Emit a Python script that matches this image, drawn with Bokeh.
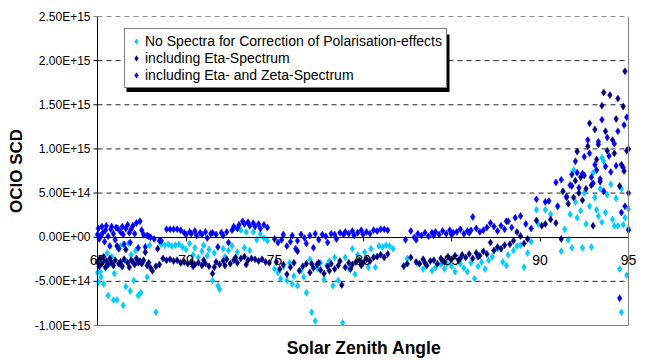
from bokeh.plotting import figure
from bokeh.models import (Range1d, FixedTicker, CustomJSTickFormatter, Legend,
                          LegendItem, ColumnDataSource, LinearAxis, Span)
from bokeh.embed import file_html
from bokeh.resources import INLINE

SCALE = 1e14  # y values below are in units of 1E+14

SERIES_NAMES = ["No Spectra for Correction of Polarisation-effects",
                "including Eta-Spectrum",
                "including Eta- and Zeta-Spectrum"]
COLORS = ["#00CCFF", "#000080", "#0000FF"]

X_TICKS = [65, 70, 75, 80, 85, 90, 95]
X_TICK_LABELS = ["65", "70", "75", "80", "85", "90", "95"]
Y_TICKS = [-1.0e15, -5.0e14, 0.0, 5.0e14, 1.0e15, 1.5e15, 2.0e15, 2.5e15]

# ---- No Spectra for Correction of Polarisation-effects (cyan)
nospec_x = [
    65.0, 65.05, 65.15, 65.2, 65.3, 65.35, 65.45, 65.55, 65.6, 65.7,
    65.8, 65.9, 65.95, 66.1, 66.2, 66.3, 66.35, 66.45, 66.55, 66.6,
    66.75, 66.85, 66.9, 67.05, 67.15, 67.3, 67.45, 67.55, 67.8, 67.95,
    68.3,
    68.6, 68.8, 69.0, 69.2, 69.4, 69.6, 69.8, 70.0, 70.2, 70.4,
    70.5, 70.7, 70.9, 71.0, 71.2, 71.3, 71.5, 71.6, 71.8, 71.9,
    72.1, 72.2, 72.4, 72.6, 72.7, 72.9, 73.1, 73.3, 73.4, 73.6,
    73.8, 74.0, 74.2, 74.4, 74.6,
    75.0, 75.2, 75.35, 75.5, 75.7, 75.85, 76.0, 76.1, 76.3, 76.5,
    76.65, 76.8, 77.0, 77.1, 77.3, 77.45, 77.6, 77.8, 77.95, 78.1,
    78.3, 78.4, 78.6, 78.85, 79.0, 79.2, 79.4, 79.55, 79.7, 79.9,
    80.1, 80.3, 80.45, 80.6, 80.7, 80.9, 81.1, 81.3, 81.5, 81.7,
    82.3, 82.5, 83.1, 83.4, 83.6, 83.9, 84.1, 84.4, 84.6, 84.75,
    85.0, 85.2, 85.5, 85.7, 85.9, 86.1, 86.3, 86.5, 86.7, 86.9,
    87.1, 87.3, 87.6, 87.9, 88.1, 88.2, 88.5, 88.7, 88.9, 89.1,
    89.3, 89.5,
    89.8, 89.9, 90.3, 90.6, 91.0, 91.2, 91.4, 91.6, 91.7, 91.8,
    91.9, 92.0, 92.1, 92.3, 92.4, 92.5, 92.6, 92.8, 92.9, 93.0,
    93.1, 93.2, 93.3, 93.4, 93.5, 93.5, 93.6, 93.7, 93.8, 94.0,
    94.1, 94.2, 94.3, 94.4, 94.5, 94.6, 94.6, 94.7, 94.8, 94.9,
    95.0, 95.0,
]
nospec_y = [
    -4.0, -5.1, -3.9, -4.5, -2.6, -5.3, -3.5, -1.8, -6.6, -3.0,
    -2.2, -7.1, -4.1, -7.1, -1.3, -1.0, -3.3, -7.7, -2.6, -5.6,
    -0.7, -6.1, -2.0, -4.9, -1.5, -6.6, -6.3, -2.8, -4.5, -0.9,
    -8.5,
    -0.8, -0.9, -0.8, -1.0, -0.9, -0.8, -1.1, -1.4, -0.7, -2.0,
    -1.2, -2.3, -1.6, -0.9, -2.1, -1.4, -4.9, -1.8, -5.5, -5.9,
    -1.3, -2.2, -1.5, -1.0, 1.0, -1.7, 0.8, -1.2, 0.6, -1.5,
    0.6, -0.3, 0.4, -0.1, -0.4,
    -3.6, -4.0, -4.7, -3.3, -4.9, -2.9, -5.3, -4.4, -5.5, -3.8,
    -4.5, -6.3, -2.5, -8.5, -9.5, -3.6, -2.9, -4.8, -3.2, -2.7,
    -5.5, -2.3, -4.9, -9.7, -2.3, -3.6, -1.3, -4.2, -2.0, -3.0,
    -1.7, -3.4, -1.3, -2.2, -3.4, -1.0, -1.1, -0.9, -1.0, -1.3,
    -3.2, -2.4, -3.0, -3.6, -3.2, -3.8, -3.4, -3.1, -3.6, -3.0,
    -3.3, -3.9, -3.0, -3.5, -3.9, -2.9, -4.7, -3.3, -2.8, -3.6,
    -2.6, -2.2, -1.3, -2.8, -3.2, -2.0, -1.5, -1.0, -0.9, -3.4,
    -1.8, -0.5,
    3.1, 1.5, 3.1, 2.6, 3.5, -1.6, 0.9, -0.3, 2.6, -1.2,
    7.6, 4.0, 2.2, 3.0, -1.2, 5.0, 1.5, 3.5, -1.1, 7.3,
    4.5, 3.1, 2.4, 5.5, 9.0, 1.7, 8.6, 2.8, 4.8, 6.0,
    2.0, 1.3, 4.4, 1.3, -3.6, -8.5, 5.5, 1.4, 2.2, -4.3,
    3.2, 1.0,
]

# ---- including Eta-Spectrum (navy)
eta_x = [
    65.0, 65.1, 65.15, 65.25, 65.35, 65.45, 65.5, 65.6, 65.7, 65.8,
    65.9, 66.0, 66.1, 66.2, 66.3, 66.4, 66.5, 66.6, 66.7, 66.8,
    66.9, 67.0, 67.1, 67.2, 67.3, 67.4, 67.5, 67.6, 67.7, 67.8,
    67.9, 68.0, 68.1, 68.3, 68.4, 68.5,
    68.7, 68.9, 69.1, 69.3, 69.5, 69.7, 69.9, 70.1, 70.3, 70.5,
    70.7, 70.9, 71.1, 71.3, 71.5, 71.7, 71.9, 72.1, 72.3, 72.5,
    72.7, 72.9, 73.1, 73.3, 73.5, 73.7, 73.9, 74.1, 74.3, 74.5,
    74.7, 70.4, 71.0, 71.6, 72.2, 72.8, 73.4,
    75.1, 75.3, 75.5, 75.7, 75.9, 76.1, 76.3, 76.4, 76.6, 76.8,
    77.0, 77.2, 77.4, 77.6, 77.8, 78.0, 78.2, 78.4, 78.6, 78.8,
    79.0, 79.2, 79.4, 79.6, 79.8, 80.0, 80.2, 80.4, 80.6, 80.8,
    81.0, 81.2, 81.4, 77.1, 77.5, 78.1, 78.7, 79.3, 79.9,
    82.3, 82.5, 82.7, 83.0, 83.2, 83.4, 83.6, 83.8, 84.0, 84.2,
    84.4, 84.6, 84.8, 85.0, 85.2, 85.4, 85.6, 85.8, 86.0, 86.2,
    86.4, 86.6, 86.8, 87.0, 87.2, 87.4, 87.6, 87.8, 88.0, 88.1,
    88.3, 88.5, 88.7, 88.9, 89.1, 89.3, 83.5, 84.5, 85.5, 86.5,
    89.8, 90.1, 90.3, 90.6, 90.9, 91.2, 91.3, 91.5, 91.6, 91.8,
    91.9, 92.0, 92.1, 92.2, 92.3, 92.4, 92.5, 92.6, 92.7, 92.8,
    92.9, 93.0, 93.1, 93.2, 93.3, 93.4, 93.5, 93.6, 93.7, 93.8,
    93.95, 94.1, 94.2, 94.3, 94.4, 94.5, 94.6, 94.7, 94.75, 94.8,
    94.9, 95.0,
]
eta_y = [
    -2.8, -3.3, -2.4, -3.0, -2.2, -3.4, -2.7, -3.1, -2.4, -2.9,
    -3.2, -2.6, -1.0, -3.0, -2.8, -3.3, -2.5, -1.4, -2.9, -3.4,
    -2.6, -2.8, -3.1, -2.4, -2.9, -2.7, -3.0, -2.6, -1.7, -3.2,
    -2.9, -3.5, -3.8, -3.3, -1.3, -3.1,
    -2.4, -2.6, -2.5, -2.7, -2.6, -2.9, -2.8, -3.0, -2.8, -3.1,
    -2.9, -3.2, -3.0, -3.3, -4.1, -2.8, -3.1, -2.7, -2.5, -3.0,
    -2.6, -2.9, -2.4, -2.2, -2.6, -2.4, -2.5, -2.7, -2.5, -2.8,
    -2.9, -3.3, -2.6, -3.4, -3.2, -2.3, -3.1,
    -2.8, -3.6, -3.1, -4.2, -3.4, -2.9, -1.6, -3.8, -3.3, -3.0,
    -4.0, -3.5, -3.1, -3.7, -4.1, -3.3, -3.0, -3.6, -3.2, -5.4,
    -3.4, -2.9, -3.1, -2.8, -2.6, -2.9, -2.5, -2.7, -2.3, -2.2,
    -2.0, -2.3, -1.9, -3.0, -2.9, -3.8, -2.7, -3.6, -3.2,
    -3.3, -3.0, -2.3, -2.8, -3.0, -2.5, -3.2, -2.7, -2.6, -3.0,
    -2.4, -2.8, -2.2, -2.5, -2.1, -2.6, -2.0, -2.3, -1.9, -2.4,
    -1.8, -2.1, -1.6, -1.9, -0.6, -1.5, -1.1, -1.3, -0.9, 1.8,
    -0.8, -0.4, 0.6, 0.15, -0.7, -0.2, -2.9, -2.7, -2.4, -2.2,
    1.9, 1.3, 1.5, 2.0, 1.6, -0.2, 5.2, 4.6, 3.8, 5.8,
    4.5, 6.4, 9.7, 5.0, 6.8, 4.2, 7.0, 5.5, 10.3, 12.9,
    5.9, 1.3, 12.2, 8.8, 10.5, 6.3, 14.9, 16.4, 12.0, 9.8,
    16.1, 11.0, 9.5, 13.4, 15.7, 5.8, 8.2, 14.8, 7.5, 18.8,
    9.8, 10.0,
]

# ---- including Eta- and Zeta-Spectrum (blue)
etazeta_x = [
    65.0, 65.05, 65.1, 65.2, 65.25, 65.3, 65.4, 65.45, 65.5, 65.6,
    65.7, 65.75, 65.8, 65.9, 66.0, 66.05, 66.15, 66.2, 66.3, 66.4,
    66.45, 66.5, 66.6, 66.7, 66.8, 66.85, 66.9, 67.0, 67.1, 67.2,
    67.3, 67.4, 67.5, 67.6, 67.7, 67.8, 67.9, 68.0, 68.2, 68.5,
    68.6, 68.9, 69.1, 69.3, 69.5, 69.7, 69.9, 70.0, 70.2, 70.3,
    70.5, 70.6, 70.8, 70.9, 71.1, 71.2, 71.4, 71.5, 71.7, 71.8,
    72.0, 72.1, 72.3, 72.4, 72.6, 72.7, 72.9, 73.0, 73.2, 73.3,
    73.5, 73.6, 73.8, 73.9, 74.1, 74.2, 74.4, 74.6,
    75.0, 75.2, 75.4, 75.5, 75.7, 75.9, 76.0, 76.2, 76.3, 76.5,
    76.7, 76.8, 77.0, 77.2, 77.3, 77.5, 77.7, 77.9, 78.0, 78.2,
    78.4, 78.5, 78.7, 78.9, 79.0, 79.2, 79.4, 79.5, 79.7, 79.9,
    80.0, 80.2, 80.4, 80.6, 80.8, 81.0, 81.2, 81.4,
    82.4, 82.7, 82.9, 83.1, 83.3, 83.5, 83.7, 83.9, 84.1, 84.3,
    84.5, 84.7, 84.9, 85.1, 85.3, 85.5, 85.7, 85.9, 86.1, 86.2,
    86.4, 86.6, 86.8, 87.0, 87.2, 87.4, 87.6, 87.8, 88.0, 88.2,
    88.4, 88.6, 88.9, 89.2, 89.5, 83.0, 84.0, 85.0, 86.0,
    89.8, 90.3, 90.5, 90.9, 91.0, 91.2, 91.5, 91.7, 91.8, 92.0,
    92.1, 92.2, 92.4, 92.5, 92.7, 92.8, 92.9, 93.0, 93.1, 93.2,
    93.3, 93.4, 93.5, 93.6, 93.7, 93.8, 93.9, 94.0, 94.2, 94.3,
    94.4, 94.5, 94.6, 94.7, 94.75, 94.8, 94.9, 95.0, 95.0,
]
etazeta_y = [
    0.3, 1.0, -0.2, 0.2, 1.2, 0.5, -0.5, 0.8, 1.3, 0.1,
    -1.0, 0.9, 1.2, 0.4, -0.3, 1.1, 1.0, -1.3, 0.6, 1.2,
    0.3, -0.8, 1.0, 1.4, 0.5, -0.6, 0.9, 1.3, 0.4, 1.6,
    -1.2, 1.8, 0.8, 0.3, -1.1, 0.2, 0.1, 0.0, -0.2, -0.4,
    -0.4, 0.9, 0.9, 0.9, 0.9, 0.8, 0.5, 0.3, 0.6, 0.4,
    0.7, 0.2, 0.5, 0.3, 0.6, -0.1, 0.4, 0.5, 0.3, -1.1,
    0.5, 0.2, 0.6, -0.6, 0.8, 1.2, 1.0, 1.4, 1.8, 1.5,
    1.7, 1.3, 1.6, 1.2, 1.5, 1.0, 1.4, 1.1,
    -0.2, -0.6, -0.3, 0.3, -1.0, -0.5, 0.2, -1.3, -0.4, 0.3,
    -0.1, -0.7, 0.2, -1.2, 0.4, -0.3, 0.3, 0.1, -0.6, 0.4,
    0.3, -0.2, 0.5, 0.3, 0.6, 0.4, 0.7, 0.2, 0.5, 0.8,
    0.3, 0.6, 0.4, 0.8, 0.7, 0.9, 0.9, 0.8,
    -0.3, 0.7, 0.0, 0.4, 0.2, 0.5, 0.1, 0.5, 0.6, 0.3,
    0.7, 0.4, 0.8, 0.5, 0.6, 0.9, 0.4, 0.7, 0.8, 2.3,
    1.0, 0.6, 0.8, 1.1, 1.6, 1.2, 0.7, 1.3, 0.9, 1.8,
    1.1, 2.2, 2.4, 1.5, 1.0, -0.3, 0.2, 0.3, 0.5,
    4.3, 4.0, 4.1, 6.2, 3.5, 6.5, 4.5, 5.9, 7.1, 8.6,
    7.3, 5.6, 7.2, 9.1, 11.0, 9.5, 6.8, 6.1, 8.2, 7.6,
    10.8, 6.6, 13.3, 5.2, 8.0, 11.3, 9.2, 7.4, 10.6, 8.1,
    12.0, -6.9, 2.8, 7.9, 12.7, 3.5, 13.6, 0.8, 5.0,
]

SERIES = [(nospec_x, nospec_y), (eta_x, eta_y), (etazeta_x, etazeta_y)]

# ---- layout geometry (pixels)
W, H = 648, 360
FRAME_L, FRAME_R = 85, 642          # frame a little wider than the plot area
AREA_L, AREA_R = 97, 628           # where 65 and 95 fall
TOP, BOTTOM = 16, 33
X0, X1 = 65, 95
Y0, Y1 = -1.0e15, 2.5e15
FONT = "Liberation Sans"

ppu = (AREA_R - AREA_L) / (X1 - X0)
xr_start = X0 - (AREA_L - FRAME_L) / ppu
xr_end = X1 + (FRAME_R - AREA_R) / ppu

p = figure(width=W, height=H, output_backend="svg", toolbar_location=None,
           x_range=Range1d(xr_start, xr_end), y_range=Range1d(Y0, Y1),
           min_border_left=FRAME_L, min_border_right=W - FRAME_R,
           min_border_top=TOP, min_border_bottom=BOTTOM)
p.background_fill_color = "white"
p.border_fill_color = "white"
p.outline_line_color = None

frame_h = H - TOP - BOTTOM
def px_to_x(px):
    return X0 + (px - AREA_L) / ppu
def py_to_y(py):
    return Y1 - (py - TOP) / frame_h * (Y1 - Y0)

# y axis: labels + title from Bokeh's axis, line and ticks drawn at x = 65
p.yaxis.ticker = FixedTicker(ticks=Y_TICKS)
p.yaxis.formatter = CustomJSTickFormatter(code="""
const s = tick.toExponential(2).toUpperCase();
const parts = s.split('E');
const sign = parts[1][0];
let d = parts[1].slice(1);
if (d.length < 2) { d = '0' + d; }
return parts[0] + 'E' + sign + d;
""")
p.yaxis.axis_line_color = None
p.yaxis.major_tick_line_color = None
p.yaxis.major_tick_out = 0
p.yaxis.major_tick_in = 0
p.yaxis.minor_tick_line_color = None
p.yaxis.major_label_text_font = FONT
p.yaxis.major_label_text_font_size = "12px"
p.yaxis.major_label_text_color = "black"
p.yaxis.major_label_standoff = -5
p.yaxis.axis_label = "OCIO SCD"
p.yaxis.axis_label_text_font = FONT
p.yaxis.axis_label_text_font_style = "bold"
p.yaxis.axis_label_text_font_size = "17px"
p.yaxis.axis_label_text_color = "black"
p.yaxis.axis_label_standoff = 6
p.ygrid.visible = False
p.xgrid.visible = False

# dashed horizontal gridlines limited to the plot area
grid_vals = [t for t in Y_TICKS if t not in (0.0, Y0)]
p.segment(x0=[X0] * len(grid_vals), x1=[X1] * len(grid_vals), y0=grid_vals, y1=grid_vals,
          line_color="#222222", line_width=1, line_dash="5 4", level="underlay")
# y axis line and ticks
p.add_layout(Span(location=X0, dimension="height", line_color="black", line_width=1))
p.segment(x0=[px_to_x(AREA_L - 4)] * len(Y_TICKS), x1=[X0] * len(Y_TICKS), y0=Y_TICKS, y1=Y_TICKS,
          line_color="black", line_width=1)
# right plot-area border
p.add_layout(Span(location=X1, dimension="height", line_color="#808080", line_width=1))

# bottom axis: gray plot-area border + title
p.xaxis.ticker = FixedTicker(ticks=[])
p.xaxis.bounds = (X0, X1)
p.xaxis.axis_line_color = "#808080"
p.xaxis.major_tick_line_color = None
p.xaxis.minor_tick_line_color = None
p.xaxis.major_tick_out = 0
p.xaxis.major_tick_in = 0
p.xaxis.major_label_text_font_size = "0px"
p.xaxis.axis_label = "Solar Zenith Angle"
p.xaxis.axis_label_text_font = FONT
p.xaxis.axis_label_text_font_style = "bold"
p.xaxis.axis_label_text_font_size = "17.5px"
p.xaxis.axis_label_text_color = "black"
p.xaxis.axis_label_standoff = 12

# value axis crossing at y = 0
zero_axis = LinearAxis(fixed_location=0, ticker=FixedTicker(ticks=X_TICKS), bounds=(X0, X1),
                       major_label_overrides={t: s for t, s in zip(X_TICKS, X_TICK_LABELS)},
                       axis_line_color="black", axis_line_width=1,
                       major_tick_line_color="black", major_tick_out=4, major_tick_in=0,
                       minor_tick_line_color=None,
                       major_label_text_font=FONT, major_label_text_font_size="14px",
                       major_label_text_color="black", major_label_standoff=14)
p.add_layout(zero_axis, "below")

# legend drop shadow (drawn below the legend box)
p.quad(left=[px_to_x(126)], right=[px_to_x(449)], top=[py_to_y(34)], bottom=[py_to_y(92)],
       fill_color="black", line_color=None)

# series
renderers = []
for (xs, ys), color in zip(SERIES, COLORS):
    src = ColumnDataSource(dict(x=xs, y=[v * SCALE for v in ys]))
    r = p.scatter("x", "y", source=src, marker="diamond", size=7,
                  fill_color=color, line_color=color, line_width=0.5)
    renderers.append(r)

legend = Legend(items=[LegendItem(label=n, renderers=[r]) for n, r in zip(SERIES_NAMES, renderers)],
                location=(124 - FRAME_L, 237), orientation="vertical",
                border_line_color="black", border_line_width=1,
                background_fill_color="white", background_fill_alpha=1,
                label_text_font=FONT, label_text_font_size="14px", label_text_color="black",
                glyph_width=14, glyph_height=16, label_height=16, label_standoff=2,
                padding=4, spacing=1, margin=0)
p.add_layout(legend)

open("out.html", "w").write(file_html(p, INLINE))
